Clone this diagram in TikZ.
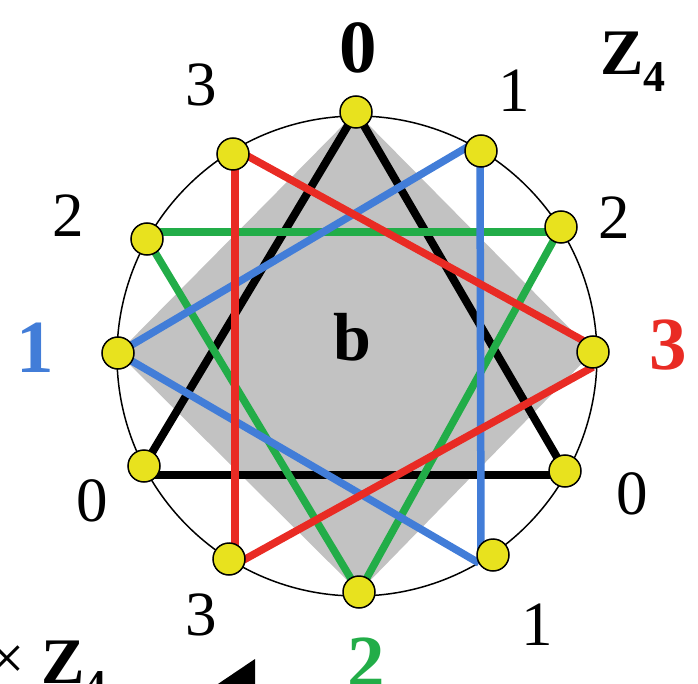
\documentclass[tikz,border=0pt]{standalone}
\usepackage{fontspec}
\setmainfont{Liberation Serif}
\definecolor{dotY}{RGB}{232,226,30}
\definecolor{lnRed}{RGB}{233,43,36}
\definecolor{lnBlue}{RGB}{66,125,216}
\definecolor{lnGreen}{RGB}{34,173,72}
\definecolor{greyFill}{RGB}{194,194,194}
\begin{document}
\begin{tikzpicture}[x=1pt,y=-1pt,
  dotnode/.style={circle, draw=black, line width=1.5pt, fill=dotY, minimum size=32pt, inner sep=0pt},
  lab/.style={font=\fontsize{63}{63}\selectfont, inner sep=0pt},
  blab/.style={font=\fontsize{75}{75}\selectfont\bfseries, inner sep=0pt},
  blk/.style={line width=8pt, black},
  redl/.style={line width=7.5pt, lnRed},
  bluel/.style={line width=7.5pt, lnBlue},
  greenl/.style={line width=7.5pt, lnGreen}]
\useasboundingbox (0,0) rectangle (698,684);
\clip (0,0) rectangle (698,684);
% dot positions
\coordinate (c0) at (356,112);
\coordinate (c1) at (481,151);
\coordinate (c2) at (561,227);
\coordinate (c3) at (593,352);
\coordinate (c4) at (565,471);
\coordinate (c5) at (493,555);
\coordinate (c6) at (359,592);
\coordinate (c7) at (229,559);
\coordinate (c8) at (144,466);
\coordinate (c9) at (118,353);
\coordinate (c10) at (147,239);
\coordinate (c11) at (233,154);
\coordinate (ctr) at (357,356);
% grey square
\fill[fill=greyFill] (c0) -- (c3) -- (c6) -- (c9) -- cycle;
% circle
\draw[line width=1.5pt] (ctr) circle[radius=240pt];
% black triangle
\draw[blk] (c8) -- (c0) -- (c4);
\draw[blk] ([yshift=-9pt]c8) -- ([yshift=-4pt]c4);
% green triangle
\draw[greenl] (c10) -- (c6) -- (c2);
\draw[greenl] ([yshift=7pt]c10) -- ([yshift=-5pt]c2);
% blue triangle
\draw[bluel] (c9) -- ([yshift=12pt]c1);
\draw[bluel] (c9) -- ([xshift=-14pt,yshift=-8pt]c5);
\draw[bluel] ([xshift=-1pt]c1) -- ([xshift=-12pt]c5);
% red triangle
\draw[redl] ([yshift=6pt]c11) -- ([yshift=6pt]c3);
\draw[redl] ([yshift=-15pt]c3) -- ([yshift=-9pt]c7);
\draw[redl] ([xshift=2pt]c11) -- ([xshift=6pt]c7);
% dots
\foreach \i in {0,...,11} { \node[dotnode] (P\i) at (c\i) {}; }
% labels
\node[blab] (l0) at (358,48) {0};
\node[lab] (l1) at (514,91) {1};
\node[lab] (l2) at (614,218) {2};
\node[blab, text=lnRed] (l3) at (668,345) {3};
\node[lab] (l4) at (632,494) {0};
\node[lab] (l5) at (537,625) {1};
\node[blab, text=lnGreen] (l6) at (366,663) {2};
\node[lab] (l7) at (201,615) {3};
\node[lab] (l8) at (92,501) {0};
\node[blab, text=lnBlue] (l9) at (35,348) {1};
\node[lab] (l10) at (68,216) {2};
\node[lab] (l11) at (201,85) {3};
\node[font=\fontsize{68}{68}\selectfont\bfseries, inner sep=0pt] (bl) at (352,337) {b};
\node[anchor=base west, inner sep=0pt, font=\fontsize{65}{65}\selectfont\bfseries] (zf) at (600,75) {Z\raisebox{-17pt}{\fontsize{44}{44}\selectfont 4}};
\node[lab] (tm) at (7,663) {×};
\node[anchor=base west, inner sep=0pt, font=\fontsize{65}{65}\selectfont\bfseries] (zb) at (41,683) {Z\raisebox{-17pt}{\fontsize{44}{44}\selectfont 4}};
% arrow head fragment
\fill[black] (255,659) -- (255,690) -- (209,690) -- cycle;
\end{tikzpicture}
\end{document}
